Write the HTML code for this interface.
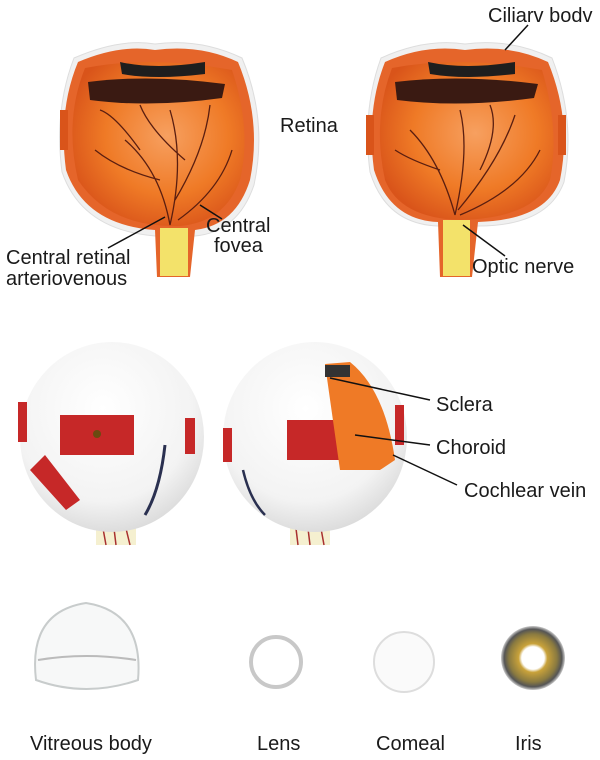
<!DOCTYPE html>
<html><head><meta charset="utf-8"><style>
html,body{margin:0;padding:0;background:#fff;}
svg{display:block}
text{font-family:"Liberation Sans",sans-serif;fill:#1a1a1a;font-size:20px}
</style></head><body>
<svg width="600" height="760" viewBox="0 0 600 760" xmlns="http://www.w3.org/2000/svg">
<defs>
<radialGradient id="og" cx="0.55" cy="0.45" r="0.6"><stop offset="0" stop-color="#f7a060"/><stop offset="0.6" stop-color="#ef7a26"/><stop offset="1" stop-color="#d9541a"/></radialGradient>
<radialGradient id="wb" cx="0.45" cy="0.35" r="0.7"><stop offset="0" stop-color="#ffffff"/><stop offset="0.7" stop-color="#f3f3f3"/><stop offset="1" stop-color="#d6d6d6"/></radialGradient>
<radialGradient id="ir" cx="0.5" cy="0.5" r="0.5"><stop offset="0.35" stop-color="#fff"/><stop offset="0.45" stop-color="#c9a23a"/><stop offset="0.75" stop-color="#8a7a40"/><stop offset="0.9" stop-color="#555"/><stop offset="1" stop-color="#ccc"/></radialGradient>
</defs>

<!-- Top left eye cup -->
<g>
<path d="M74,58 Q120,38 155,44 Q200,38 242,58 Q268,120 254,185 Q238,232 195,236 L155,236 Q82,230 62,172 Q54,110 74,58Z" fill="#f0f0f0" stroke="#ddd"/>
<path d="M78,62 Q120,44 155,50 Q200,44 238,62 Q262,120 250,180 Q236,225 195,230 L190,277 L157,277 L155,230 Q85,225 66,170 Q58,110 78,62Z" fill="#e5652a"/>
<path d="M85,68 Q150,55 232,70 Q252,130 240,180 Q225,222 180,226 Q110,228 78,180 Q64,120 85,68Z" fill="url(#og)"/>
<path d="M88,82 Q150,74 225,84 L222,98 Q150,108 90,100Z" fill="#3a1a12"/>
<path d="M120,62 Q155,70 205,62 L205,74 Q155,80 122,74Z" fill="#1e1e1e"/>
<rect x="160" y="228" width="28" height="48" fill="#f3e26a"/>
<g stroke="#5a1e10" stroke-width="1.3" fill="none">
<path d="M170,225 Q160,170 125,140 M160,180 Q120,170 95,150 M170,225 Q185,160 170,110 M175,200 Q205,150 210,105 M178,220 Q220,190 232,150 M140,150 Q115,115 100,110 M185,160 Q150,130 140,105"/>
</g>
<rect x="60" y="110" width="8" height="40" fill="#d9541a"/>
</g>

<!-- Top right eye cup -->
<g>
<path d="M381,58 Q425,38 465,44 Q510,38 552,58 Q576,120 564,182 Q548,226 478,226 L438,226 Q386,224 370,172 Q362,110 381,58Z" fill="#f0f0f0" stroke="#ddd"/>
<path d="M385,62 Q425,44 465,50 Q510,44 548,62 Q572,120 560,180 Q546,220 478,222 L472,277 L440,277 L438,222 Q390,220 374,170 Q366,110 385,62Z" fill="#e5652a"/>
<path d="M392,68 Q460,55 542,70 Q560,130 550,180 Q535,218 460,220 Q400,218 385,180 Q372,120 392,68Z" fill="url(#og)"/>
<path d="M395,82 Q460,74 538,84 L534,98 Q460,108 397,100Z" fill="#3a1a12"/>
<path d="M428,62 Q465,70 515,62 L515,74 Q465,80 430,74Z" fill="#1e1e1e"/>
<rect x="443" y="220" width="27" height="56" fill="#f3e26a"/>
<g stroke="#5a1e10" stroke-width="1.3" fill="none">
<path d="M455,215 Q440,160 410,130 M455,215 Q470,150 460,110 M458,210 Q500,160 515,115 M460,215 Q520,190 540,150 M440,170 Q410,160 395,150 M480,170 Q500,130 490,105"/>
</g>
<rect x="366" y="115" width="8" height="40" fill="#d9541a"/>
<rect x="558" y="115" width="8" height="40" fill="#d9541a"/>
</g>

<!-- leader lines top -->
<g stroke="#111" stroke-width="1.5">
<line x1="528" y1="25" x2="505" y2="50"/>
<line x1="222" y1="219" x2="200" y2="205"/>
<line x1="108" y1="248" x2="165" y2="217"/>
<line x1="505" y1="256" x2="463" y2="225"/>
</g>
<text x="488" y="22">Ciliarv bodv</text>
<text x="280" y="132">Retina</text>
<text x="206" y="232">Central</text>
<text x="214" y="252">fovea</text>
<text x="6" y="264">Central retinal</text>
<text x="6" y="285">arteriovenous</text>
<text x="472" y="273">Optic nerve</text>

<!-- middle left ball -->
<g>
<rect x="96" y="510" width="40" height="35" fill="#f5f0d0"/>
<path d="M100,512 L106,545 M112,512 L116,545 M122,512 L130,545" stroke="#a83030" stroke-width="1.5"/>
<ellipse cx="112" cy="437" rx="92" ry="95" fill="url(#wb)"/>
<rect x="60" y="415" width="74" height="40" fill="#c62828"/>
<circle cx="97" cy="434" r="4" fill="#6a4a10"/>
<rect x="18" y="402" width="9" height="40" fill="#c62828"/>
<rect x="185" y="418" width="10" height="36" fill="#c62828"/>
<path d="M30,470 L45,455 L80,500 L66,510Z" fill="#c62828"/>
<path d="M165,445 Q160,490 145,515" stroke="#2a3050" stroke-width="3" fill="none"/>
</g>

<!-- middle right ball -->
<g>
<rect x="290" y="510" width="40" height="35" fill="#f5f0d0"/>
<path d="M294,512 L298,545 M306,512 L310,545 M318,512 L324,545" stroke="#a83030" stroke-width="1.5"/>
<ellipse cx="315" cy="437" rx="92" ry="95" fill="url(#wb)"/>
<rect x="287" y="420" width="55" height="40" fill="#c62828"/>
<path d="M325,364 L350,362 Q385,390 395,460 L380,470 L340,470Z" fill="#ef7a26"/>
<rect x="325" y="365" width="25" height="12" fill="#333"/>
<rect x="223" y="428" width="9" height="34" fill="#c62828"/>
<rect x="395" y="405" width="9" height="40" fill="#c62828"/>
<path d="M243,470 Q250,500 265,515" stroke="#2a3050" stroke-width="2.5" fill="none"/>
</g>
<g stroke="#111" stroke-width="1.5">
<line x1="330" y1="378" x2="430" y2="400"/>
<line x1="355" y1="435" x2="430" y2="445"/>
<line x1="393" y1="455" x2="457" y2="485"/>
</g>
<text x="436" y="411">Sclera</text>
<text x="436" y="454">Choroid</text>
<text x="464" y="497">Cochlear vein</text>

<!-- bottom -->
<path d="M36,680 Q28,612 86,603 Q144,612 138,680 Q86,698 36,680Z" fill="#f7f8f8" stroke="#c8cccc" stroke-width="2"/>
<path d="M38,660 Q86,652 136,660" stroke="#bbb" fill="none" stroke-width="2"/>
<circle cx="276" cy="662" r="25" fill="none" stroke="#c8c8c8" stroke-width="4"/>
<circle cx="404" cy="662" r="30" fill="#fafafa" stroke="#ddd" stroke-width="2"/>
<circle cx="533" cy="658" r="32" fill="url(#ir)"/>
<text x="30" y="750">Vitreous body</text>
<text x="257" y="750">Lens</text>
<text x="376" y="750">Comeal</text>
<text x="515" y="750">Iris</text>
</svg>
</body></html>
